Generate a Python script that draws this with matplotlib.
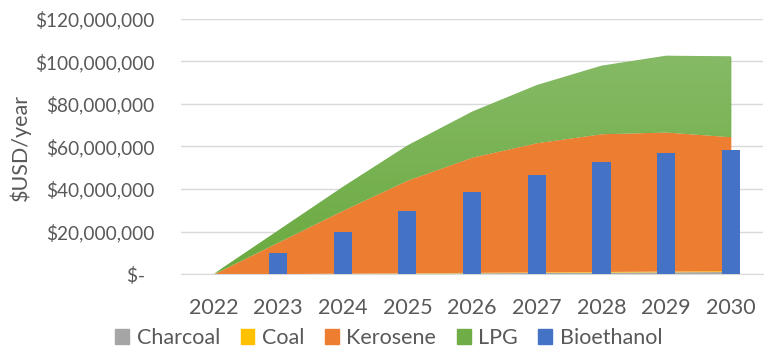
import matplotlib
matplotlib.use("Agg")
import matplotlib.pyplot as plt
import numpy as np
from matplotlib.patches import Patch
from matplotlib.colors import LinearSegmentedColormap
from matplotlib.ticker import FuncFormatter

plt.rcParams['font.family'] = ['Lato', 'DejaVu Sans']

years = [2022, 2023, 2024, 2025, 2026, 2027, 2028, 2029, 2030]

# values in millions of USD/year
charcoal = [0, 0.15, 0.3, 0.45, 0.6, 0.75, 0.9, 1.05, 1.2]
coal = [0, 0.05, 0.1, 0.15, 0.2, 0.25, 0.3, 0.35, 0.4]
kerosene = [0, 14.8, 29.6, 43.6, 54.2, 60.8, 64.8, 65.4, 63.0]
lpg = [0, 5.5, 11.0, 16.3, 21.4, 27.1, 32.0, 35.9, 37.8]
bioethanol = [0, 9.8, 19.9, 29.6, 38.7, 46.4, 52.7, 57.0, 58.4]

text_col = '#595959'
grid_col = '#d9d9d9'

fig = plt.figure(figsize=(7.67, 3.5), dpi=100)
ax = fig.add_axes([0.236, 0.217, 0.759, 0.729])

x = np.array(years)
s1 = np.array(charcoal) * 1e6
s2 = s1 + np.array(coal) * 1e6
s3 = s2 + np.array(kerosene) * 1e6
s4 = s3 + np.array(lpg) * 1e6

ax.fill_between(x, 0, s1, color='#a5a5a5', lw=0, zorder=2)
ax.fill_between(x, s1, s2, color='#ffc000', lw=0, zorder=2)
ax.fill_between(x, s2, s3, color='#ed7d31', lw=0, zorder=2)
green = ax.fill_between(x, s3, s4, color='#70ad47', lw=0, zorder=2)

# light-to-dark gradient on the LPG area, like the Excel fill
cmap = LinearSegmentedColormap.from_list('g', ['#6aaa3f', '#86ba66'])
grad = np.linspace(0, 1, 256).reshape(-1, 1)
im = ax.imshow(grad, cmap=cmap, origin='lower', aspect='auto',
               extent=[2022, 2030, 0, s4.max()], zorder=2.5)
im.set_clip_path(green.get_paths()[0], transform=ax.transData)

ax.bar(x, np.array(bioethanol) * 1e6, width=0.28, color='#4472c4', zorder=3)

ax.set_xlim(2021.5, 2030.5)
ax.set_ylim(0, 120e6)
ax.set_yticks(np.arange(0, 120e6 + 1, 20e6))
ax.set_xticks(years)


def money(v, pos):
    if v == 0:
        return '$-  '
    return '${:,.0f}'.format(v)


ax.yaxis.set_major_formatter(FuncFormatter(money))
ax.grid(axis='y', color=grid_col, lw=1, zorder=0)
ax.set_axisbelow(True)
for sp in ['top', 'right', 'left']:
    ax.spines[sp].set_visible(False)
ax.spines['bottom'].set_color(grid_col)
ax.tick_params(axis='both', length=0, colors=text_col)
ax.tick_params(axis='y', pad=19, labelsize=13.7)
ax.tick_params(axis='x', pad=17, labelsize=15.5)

fig.text(0.026, 0.58, '$USD/year', rotation=90, ha='center', va='center',
         fontsize=15.5, color=text_col)

handles = [Patch(color='#a5a5a5', label='Charcoal'),
           Patch(color='#ffc000', label='Coal'),
           Patch(color='#ed7d31', label='Kerosene'),
           Patch(color='#70ad47', label='LPG'),
           Patch(color='#4472c4', label='Bioethanol')]
leg = fig.legend(handles=handles, loc='center', bbox_to_anchor=(0.507, 0.034),
                 ncol=5, frameon=False, fontsize=15.5, handlelength=0.65,
                 handleheight=0.65, handletextpad=0.35, columnspacing=0.95,
                 borderaxespad=0)
for t in leg.get_texts():
    t.set_color(text_col)

fig.savefig('out.png', dpi=100)
